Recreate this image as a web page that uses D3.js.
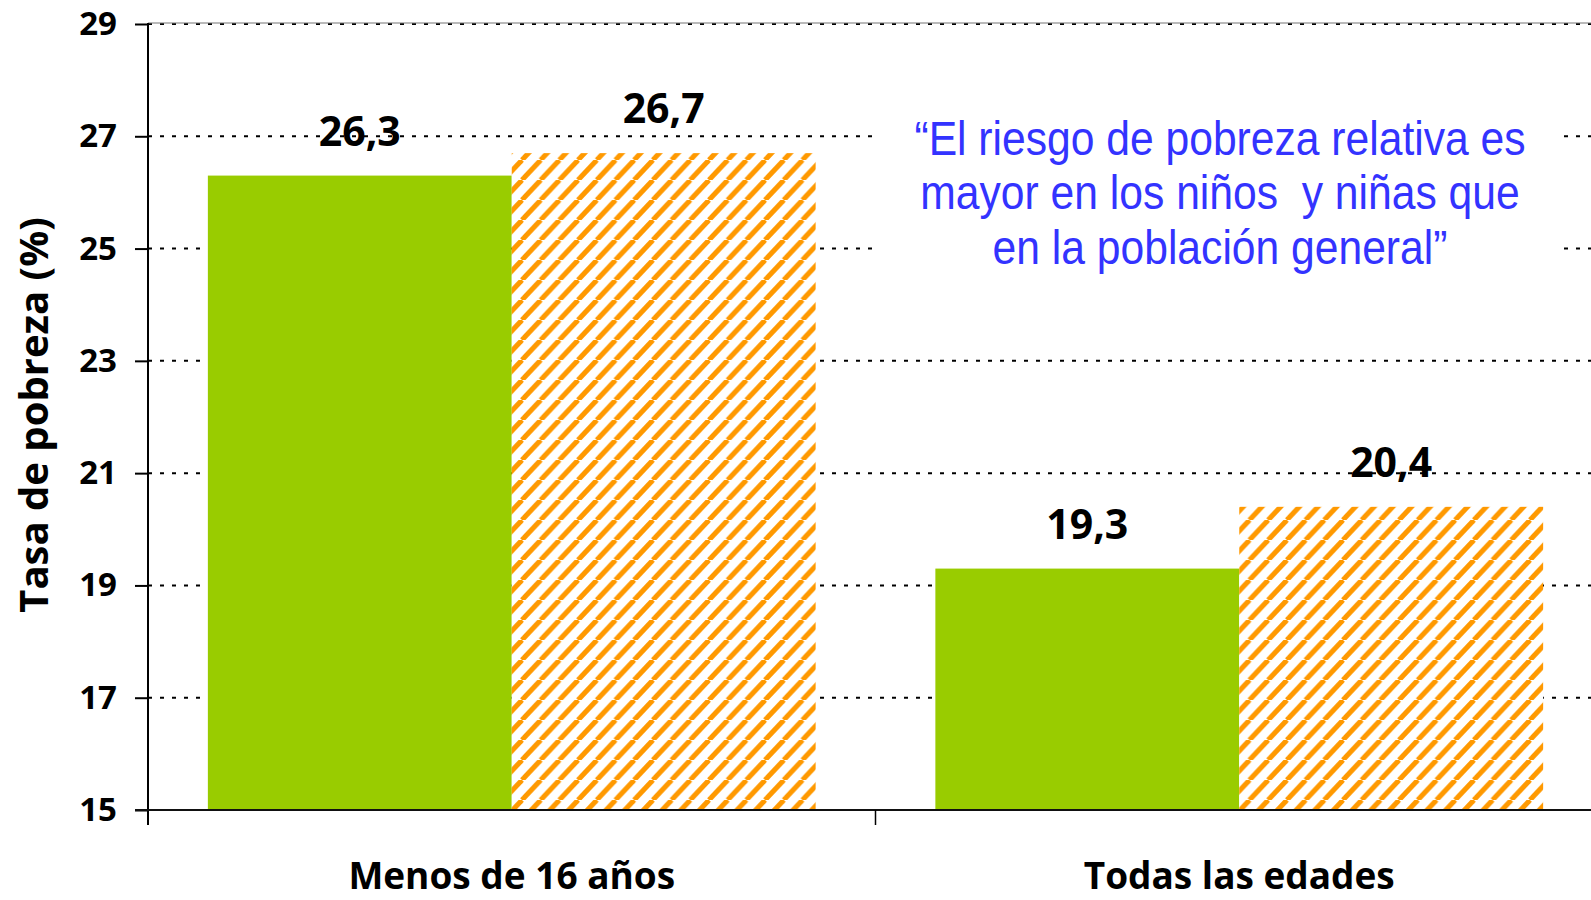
<!DOCTYPE html>
<html>
<head>
<meta charset="utf-8">
<script src="https://cdn.jsdelivr.net/npm/d3@7"></script>
<style>
  body { margin: 0; background: #fff; }
  svg { display: block; }
  text { font-family: "Open Sans", Lato, sans-serif; font-weight: 700; }
</style>
</head>
<body>
<div id="chart"></div>
<script>
// data
var categories = ["Menos de 16 años", "Todas las edades"];
var seriesNames = ["serie1", "serie2"];
var serie1 = [26.3, 19.3];
var serie2 = [26.7, 20.4];
var yTicks = [15, 17, 19, 21, 23, 25, 27, 29];
var quoteLines = ["\u201CEl riesgo de pobreza relativa es", "mayor en los niños  y niñas que", "en la población general\u201D"];

var width = 1591, height = 900;
var plotLeft = 148, plotTop = 24, plotBottom = 810, plotRight = 1603;

var svg = d3.select("#chart").append("svg")
  .attr("width", width)
  .attr("height", height);

// hatch pattern for second series
var defs = svg.append("defs");
var pw = 18.7, ph = 20;
var pat = defs.append("pattern")
  .attr("id", "hatch")
  .attr("patternUnits", "userSpaceOnUse")
  .attr("width", pw)
  .attr("height", ph);
pat.append("rect").attr("width", pw).attr("height", ph).attr("fill", "#fff");
[[-pw, 0], [0, 0], [pw, 0]].forEach(function(o) {
  pat.append("line")
    .attr("x1", o[0]).attr("y1", ph)
    .attr("x2", o[0] + pw).attr("y2", 0)
    .attr("stroke", "#ff9900")
    .attr("stroke-width", 5);
});

var y = d3.scaleLinear().domain([15, 29]).range([plotBottom, plotTop]);
var x0 = d3.scaleBand().domain(categories).range([plotLeft, plotRight]).padding(0);
var x1 = d3.scaleBand().domain(seriesNames).range([0, x0.bandwidth()])
  .paddingInner(0).paddingOuter(0.197);

// gridlines
svg.append("g").selectAll("line")
  .data(yTicks.filter(function(t) { return t > 15; }))
  .join("line")
  .attr("x1", plotLeft).attr("x2", width)
  .attr("y1", function(d) { return y(d); })
  .attr("y2", function(d) { return y(d); })
  .attr("stroke", "#000")
  .attr("stroke-width", 2)
  .attr("stroke-dasharray", "4,8");

// top border line
svg.append("line")
  .attr("x1", plotLeft).attr("x2", width)
  .attr("y1", y(29) - 1).attr("y2", y(29) - 1)
  .attr("stroke", "#777").attr("stroke-width", 1);

// white box behind the quote
svg.append("rect")
  .attr("x", 878).attr("y", 100)
  .attr("width", 682).attr("height", 180)
  .attr("fill", "#fff");

// bars
var rows = categories.map(function(c, i) {
  return [{cat: c, s: "serie1", v: serie1[i]}, {cat: c, s: "serie2", v: serie2[i]}];
});
var groups = svg.append("g").selectAll("g")
  .data(rows)
  .join("g")
  .attr("transform", function(d) { return "translate(" + x0(d[0].cat) + ",0)"; });

groups.selectAll("rect")
  .data(function(d) { return d; })
  .join("rect")
  .attr("x", function(d) { return x1(d.s); })
  .attr("y", function(d) { return y(d.v); })
  .attr("width", x1.bandwidth())
  .attr("height", function(d) { return plotBottom - y(d.v); })
  .attr("fill", function(d) { return d.s == "serie1" ? "#99cc00" : "url(#hatch)"; });

groups.selectAll("text")
  .data(function(d) { return d; })
  .join("text")
  .attr("x", function(d) { return x1(d.s) + x1.bandwidth() / 2; })
  .attr("y", function(d) { return y(d.v) - 30; })
  .attr("text-anchor", "middle")
  .attr("font-size", 41)
  .attr("fill", "#000")
  .text(function(d) { return d.v.toFixed(1).replace(".", ","); });

// y axis
var yAxis = svg.append("g")
  .attr("transform", "translate(" + plotLeft + ",0)")
  .call(d3.axisLeft(y).tickValues(yTicks).tickSize(13).tickPadding(18).tickFormat(d3.format("d")));
yAxis.select(".domain").remove();
yAxis.selectAll(".tick line").attr("stroke", "#000").attr("stroke-width", 2);
yAxis.selectAll(".tick text")
  .attr("font-size", 33)
  .attr("font-family", "'Open Sans'")
  .attr("font-weight", 700)
  .attr("fill", "#000");
svg.append("line")
  .attr("x1", plotLeft).attr("x2", plotLeft)
  .attr("y1", plotTop - 1).attr("y2", 825)
  .attr("stroke", "#000").attr("stroke-width", 2);

// x axis
svg.append("line")
  .attr("x1", 135).attr("x2", width)
  .attr("y1", plotBottom).attr("y2", plotBottom)
  .attr("stroke", "#111").attr("stroke-width", 2);
svg.append("g").selectAll("line")
  .data(categories.slice(1))
  .join("line")
  .attr("x1", function(d) { return x0(d); })
  .attr("x2", function(d) { return x0(d); })
  .attr("y1", plotBottom).attr("y2", 825)
  .attr("stroke", "#000").attr("stroke-width", 1.5);

svg.append("g").selectAll("text")
  .data(categories)
  .join("text")
  .attr("x", function(d) { return x0(d) + x0.bandwidth() / 2; })
  .attr("y", 889)
  .attr("text-anchor", "middle")
  .attr("font-size", 37)
  .attr("fill", "#000")
  .text(function(d) { return d; });

// y title
svg.append("text")
  .attr("transform", "translate(48,415) rotate(-90)")
  .attr("text-anchor", "middle")
  .attr("font-size", 40)
  .attr("fill", "#000")
  .text("Tasa de pobreza (%)");

// quote (narrow look via horizontal squeeze)
svg.append("g")
  .attr("transform", "translate(1220,0) scale(0.87,1)")
  .selectAll("text")
  .data(quoteLines)
  .join("text")
  .attr("x", 0)
  .attr("y", function(d, i) { return 155 + i * 54.5; })
  .attr("text-anchor", "middle")
  .style("font-family", "'Liberation Sans', Arial, sans-serif")
  .style("font-weight", 400)
  .style("white-space", "pre")
  .attr("font-size", 49)
  .attr("fill", "#3333ff")
  .text(function(d) { return d; });
</script>
</body>
</html>
